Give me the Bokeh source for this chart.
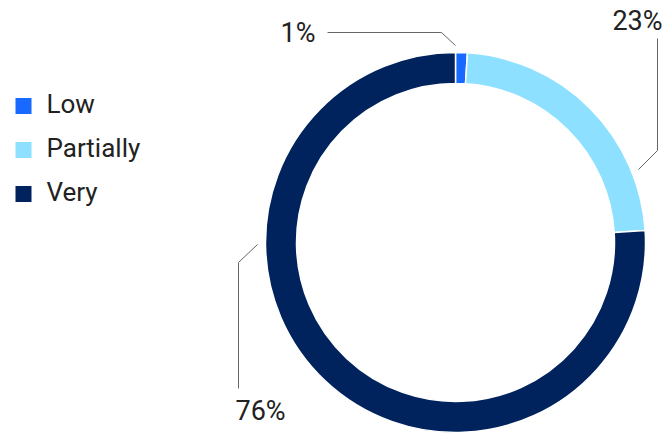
import math
from bokeh.plotting import figure
from bokeh.models import Range1d, ColumnDataSource
from bokeh.core.properties import value
from bokeh.embed import file_html
from bokeh.resources import INLINE

categories = ["Low", "Partially", "Very"]
shares = [1, 23, 76]
colors = ["#1769FF", "#8DE0FF", "#00235E"]
labels = ["1%", "23%", "76%"]

W, H = 666, 437
p = figure(width=W, height=H, output_backend="svg", toolbar_location=None,
           x_range=Range1d(0, W), y_range=Range1d(0, H), min_border=0,
           outline_line_color=None)
p.axis.visible = False
p.grid.visible = False
p.background_fill_color = "white"
p.border_fill_color = "white"

cx, cy = 455, 195
r_out, r_in = 190, 159
total = sum(shares)
starts, ends = [], []
a = math.pi / 2
for s in shares:
    starts.append(a)
    a -= 2 * math.pi * s / total
    ends.append(a)

src = ColumnDataSource(dict(cat=categories, start=starts, end=ends, color=colors))
p.annular_wedge(x=cx, y=cy, inner_radius=r_in, outer_radius=r_out,
                start_angle="start", end_angle="end", direction="clock",
                fill_color="color", line_color="white", line_width=1.5, source=src)

# leader lines
leaders = [
    ([327, 441, 455], [405, 405, 392]),
    ([657, 657, 638], [399, 287, 268]),
    ([238, 238, 257], [49, 175, 193]),
]
for xs, ys in leaders:
    p.line(xs, ys, line_color="#666666", line_width=1)

font = value("Roboto")
lab_x = [315, 662, 235]
lab_y = [405, 417, 27]
lab_align = ["right", "right", "left"]
p.text(x=lab_x, y=lab_y, text=labels, text_align=lab_align, text_baseline="middle",
       text_font=font, text_font_size="27px", text_color="#222222")

# legend
leg_y = [331.5 - 44 * i for i in range(len(categories))]
p.rect(x=[23] * len(categories), y=leg_y, width=16, height=16,
       width_units="screen", height_units="screen", fill_color=colors, line_color=None)
p.text(x=[46] * len(categories), y=[y + 2 for y in leg_y], text=categories,
       text_baseline="middle", text_font=font, text_font_size="26px", text_color="#222222")

open("out.html", "w").write(file_html(p, INLINE))
